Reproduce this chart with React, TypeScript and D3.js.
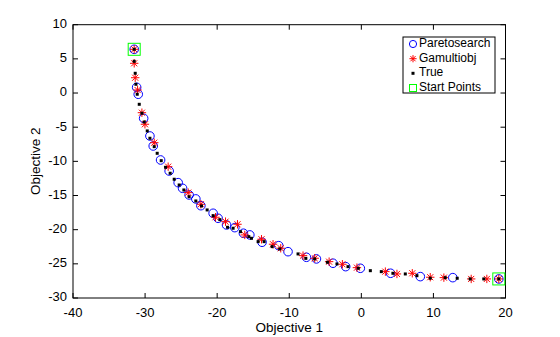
import React from "react";
import * as d3 from "d3";

const paretoX = [-31.51, -31.17, -30.95, -30.2, -29.33, -28.87, -27.85, -26.66, -25.41, -24.8, -23.89, -22.96, -22.26, -20.56, -19.87, -18.7, -17.55, -16.36, -15.47, -13.77, -11.46, -10.17, -7.62, -6.23, -3.93, -2.17, -0.14, 4.06, 8.18, 12.69, 19.07];
const paretoY = [6.4, 0.84, -0.18, -3.7, -6.29, -7.75, -9.8, -11.41, -13.12, -13.94, -14.92, -15.5, -16.49, -17.6, -18.33, -19.31, -19.7, -20.52, -20.77, -21.84, -22.34, -23.22, -24.04, -24.28, -24.91, -25.41, -25.65, -26.38, -26.87, -27.02, -27.21];

const gaX = [-31.51, -31.51, -31.37, -31.04, -30.44, -30.02, -28.73, -26.8, -24.02, -22.26, -20.23, -18.84, -17.18, -16.17, -13.85, -12.25, -11.18, -8.09, -6.47, -4.47, -2.63, -0.61, 3.33, 4.94, 7.07, 9.56, 11.45, 15.24, 17.41, 19.07];
const gaY = [6.4, 4.35, 2.24, 0.44, -2.88, -4.57, -7.27, -10.78, -14.58, -16.28, -18.18, -18.83, -19.21, -20.77, -21.4, -22.13, -22.72, -23.8, -24.18, -24.68, -25.06, -25.56, -26.14, -26.48, -26.38, -26.96, -27.02, -27.21, -27.21, -27.21];

const trueX = [-31.51, -31.51, -31.37, -31.27, -31.09, -30.81, -30.44, -30.12, -29.7, -29.33, -28.73, -28.32, -27.76, -27.16, -26.52, -25.96, -25.27, -24.62, -23.89, -22.96, -22.17, -21.39, -20.56, -19.63, -18.56, -17.79, -16.76, -15.61, -15.24, -14.32, -13.49, -12.38, -11.32, -8.78, -7.7, -6.47, -4.71, -3.38, -1.85, -0.41, 1.25, 2.77, 4.38, 6.1, 7.71, 9.56, 11.64, 13.3, 15.1, 16.99, 19.07];
const trueY = [6.4, 4.64, 2.89, 1.28, -0.18, -1.65, -2.96, -4.24, -5.55, -6.62, -7.85, -8.82, -9.9, -10.87, -11.74, -12.62, -13.46, -14.19, -15.17, -15.8, -16.53, -17.11, -17.95, -18.53, -19.65, -19.79, -20.29, -21.02, -21.26, -21.75, -21.75, -22.48, -22.82, -23.55, -24.2, -24.28, -24.77, -25.02, -25.41, -25.65, -26.0, -26.14, -26.38, -26.48, -26.73, -27.11, -27.02, -27.11, -27.21, -27.21, -27.21];

const startX = [-31.51, 19.07];
const startY = [6.4, -27.21];

const xTicks = [-40, -30, -20, -10, 0, 10, 20];
const yTicks = [-30, -25, -20, -15, -10, -5, 0, 5, 10];
const legendLabels = ["Paretosearch", "Gamultiobj", "True", "Start Points"];

const FONT = "'Liberation Sans', Arial, sans-serif";

function Star({ cx, cy, r }: { cx: number; cy: number; r: number }) {
  const d = r * 0.72;
  return (
    <g stroke="#ff0000" strokeWidth={1}>
      <line x1={cx - r} y1={cy} x2={cx + r} y2={cy} />
      <line x1={cx} y1={cy - r} x2={cx} y2={cy + r} />
      <line x1={cx - d} y1={cy - d} x2={cx + d} y2={cy + d} />
      <line x1={cx - d} y1={cy + d} x2={cx + d} y2={cy - d} />
    </g>
  );
}

export default function App() {
  const W = 560, H = 337;
  const left = 73, right = 505.5, top = 24.7, bottom = 298;
  const x = d3.scaleLinear().domain([-40, 20]).range([left, right]);
  const y = d3.scaleLinear().domain([-30, 10]).range([bottom, top]);
  const tl = 5;

  const lx = 403, ly = 37, lw = 92, lh = 56;
  const rowY = [44, 58.7, 73.3, 88];
  const mx = 413, tx = 419;

  return (
    <svg width={W} height={H} style={{ position: "absolute", left: 0, top: 0 }} fontFamily={FONT}>
      <rect x={0} y={0} width={W} height={H} fill="#fff" />
      {xTicks.map((t) => (
        <g key={"xt" + t}>
          <line x1={x(t)} x2={x(t)} y1={bottom} y2={bottom - tl} stroke="#000" />
          <line x1={x(t)} x2={x(t)} y1={top} y2={top + tl} stroke="#000" />
          <text x={x(t)} y={313.5} fontSize={13} textAnchor="middle" dominantBaseline="middle">{t}</text>
        </g>
      ))}
      {yTicks.map((t) => (
        <g key={"yt" + t}>
          <line x1={left} x2={left + tl} y1={y(t)} y2={y(t)} stroke="#000" />
          <line x1={right} x2={right - tl} y1={y(t)} y2={y(t)} stroke="#000" />
          <text x={67} y={y(t)} fontSize={13} textAnchor="end" dominantBaseline="middle">{t}</text>
        </g>
      ))}
      <rect x={left} y={top} width={right - left} height={bottom - top} fill="none" stroke="#000" strokeWidth={1} />
      <text x={(left + right) / 2} y={328} fontSize={13.5} textAnchor="middle" dominantBaseline="middle">Objective 1</text>
      <text transform={`translate(36,${(top + bottom) / 2}) rotate(-90)`} fontSize={13.5} textAnchor="middle" dominantBaseline="middle">Objective 2</text>

      {paretoX.map((v, i) => (
        <circle key={"p" + i} cx={x(v)} cy={y(paretoY[i])} r={4.3} fill="none" stroke="#0000ff" strokeWidth={1} />
      ))}
      {gaX.map((v, i) => (
        <Star key={"g" + i} cx={x(v)} cy={y(gaY[i])} r={4.2} />
      ))}
      {trueX.map((v, i) => (
        <rect key={"t" + i} x={x(v) - 1.5} y={y(trueY[i]) - 1.5} width={3} height={3} fill="#000" />
      ))}
      {startX.map((v, i) => (
        <rect key={"s" + i} x={x(v) - 6} y={y(startY[i]) - 6} width={12} height={12} fill="none" stroke="#00ff00" strokeWidth={1} />
      ))}

      <rect x={lx} y={ly} width={lw} height={lh} fill="#fff" stroke="#000" strokeWidth={1} />
      <circle cx={mx} cy={rowY[0]} r={3.6} fill="none" stroke="#0000ff" />
      <Star cx={mx} cy={rowY[1]} r={3.6} />
      <rect x={mx - 1.5} y={rowY[2] - 1.5} width={3} height={3} fill="#000" />
      <rect x={mx - 3.5} y={rowY[3] - 3.5} width={7} height={7} fill="none" stroke="#00ff00" />
      {legendLabels.map((l, i) => (
        <text key={l} x={tx} y={rowY[i]} fontSize={12} dominantBaseline="middle">{l}</text>
      ))}
    </svg>
  );
}
